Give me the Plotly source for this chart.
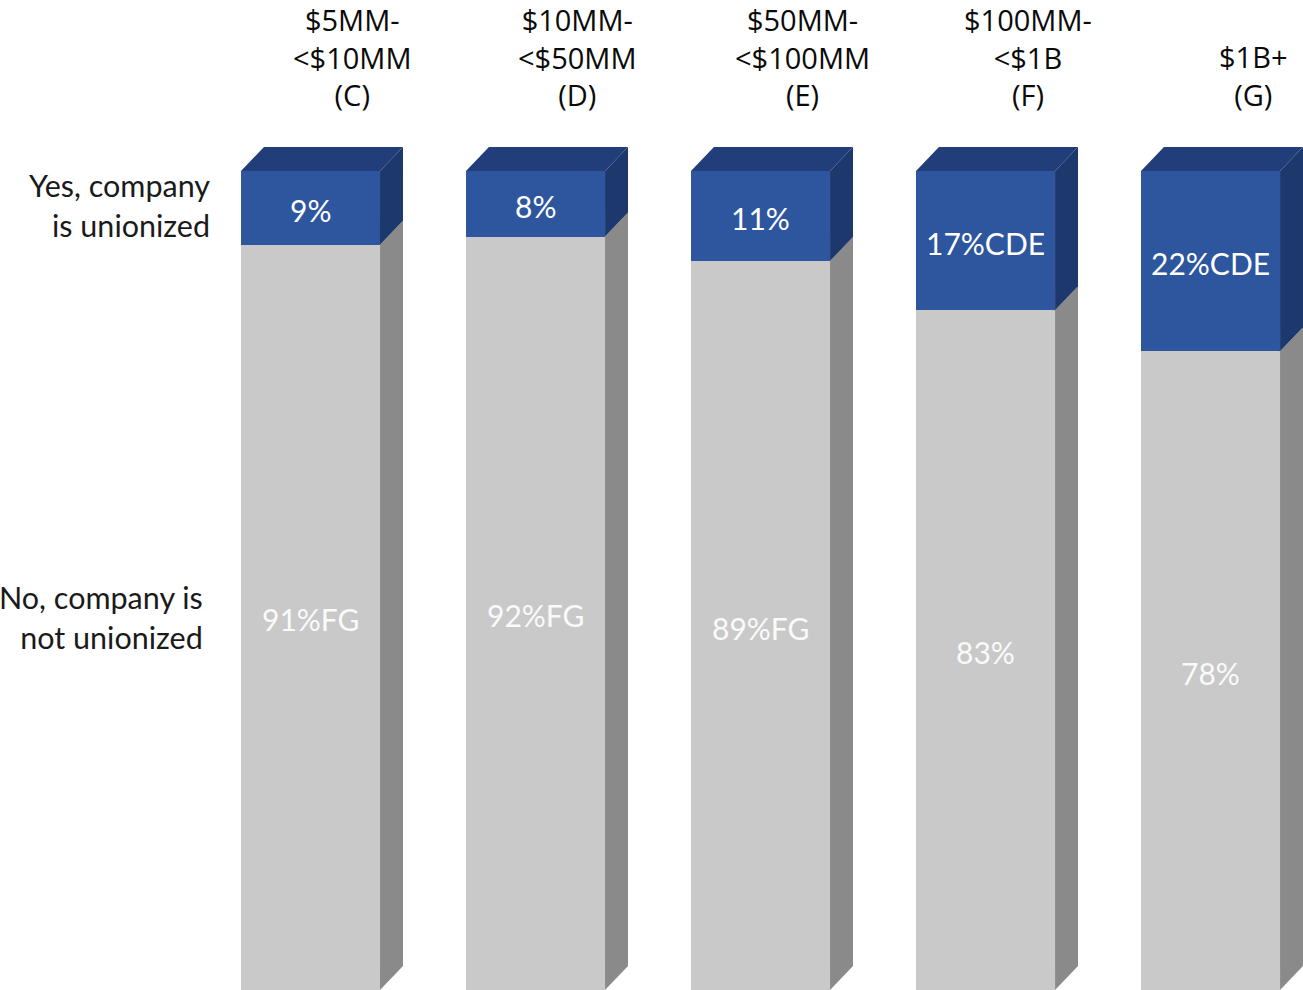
import plotly.graph_objects as go

# Company revenue segments (columns)
segments = ["$5MM-<br><$10MM<br>(C)", "$10MM-<br><$50MM<br>(D)", "$50MM-<br><$100MM<br>(E)",
            "$100MM-<br><$1B<br>(F)", "$1B+<br>(G)"]
# Share of companies that are unionized / not unionized (%)
yes_values = [9, 8, 11, 17, 22]
no_values = [91, 92, 89, 83, 78]
# Significance letters shown after each value
yes_sig = ["", "", "", "CDE", "CDE"]
no_sig = ["FG", "FG", "FG", "", ""]
series_names = ["Yes, company<br>is unionized", "No, company is<br>not unionized"]

BLUE_FRONT = "#2E569E"
BLUE_TOP = "#213D7A"
BLUE_SIDE = "#1C386C"
GRAY_FRONT = "#C9C9C9"
GRAY_SIDE = "#8A8A8A"

BAR_W = 0.618      # bar width in category units
DX = 0.102         # depth offset (x, category units)
DY = 2.93          # depth offset (y, percentage units)

x = list(range(len(segments)))

fig = go.Figure()
fig.add_trace(go.Bar(x=x, y=no_values, width=BAR_W, marker=dict(color=GRAY_FRONT, line=dict(width=0)),
                     name="No", showlegend=False, hoverinfo="skip"))
fig.add_trace(go.Bar(x=x, y=yes_values, width=BAR_W, marker=dict(color=BLUE_FRONT, line=dict(width=0)),
                     name="Yes", showlegend=False, hoverinfo="skip"))


def face(xs, ys, color):
    fig.add_trace(go.Scatter(x=xs + [xs[0]], y=ys + [ys[0]], mode="lines", fill="toself",
                             fillcolor=color, line=dict(width=0, color=color),
                             showlegend=False, hoverinfo="skip"))


# 3D side and top faces
for i in x:
    xl = i - BAR_W / 2
    xr = i + BAR_W / 2
    n = no_values[i]
    tot = no_values[i] + yes_values[i]
    face([xr, xr, xr + DX, xr + DX], [0, n, n + DY, DY], GRAY_SIDE)
    face([xr, xr, xr + DX, xr + DX], [n, tot, tot + DY, n + DY], BLUE_SIDE)
    face([xl, xr, xr + DX, xl + DX], [tot, tot, tot + DY, tot + DY], BLUE_TOP)

annotations = []
LABEL_FONT = "Lato, 'Noto Sans', sans-serif"
for i in x:
    n = no_values[i]
    yv = yes_values[i]
    annotations.append(dict(x=i, y=n + yv / 2, text=f"{yv}%{yes_sig[i]}", showarrow=False,
                            font=dict(family=LABEL_FONT, size=30, color="#FFFFFF"), yshift=-2))
    annotations.append(dict(x=i, y=n / 2, text=f"{n}%{no_sig[i]}", showarrow=False,
                            font=dict(family=LABEL_FONT, size=30, color="#FAFAFA"), yshift=-2))
    annotations.append(dict(x=i, y=0.8838, yref="paper", yanchor="bottom", xshift=42,
                            text=segments[i], showarrow=False, align="center", borderpad=0,
                            font=dict(family="'Open Sans', sans-serif", size=29, color="#0A0A0A")))

# Series labels beside the first column
annotations.append(dict(x=0, y=no_values[0] + yes_values[0] / 2, xanchor="right", xshift=-99, yshift=3,
                        text=series_names[0], showarrow=False, align="right",
                        font=dict(family=LABEL_FONT, size=30.5, color="#1A1A1A")))
annotations.append(dict(x=0, y=no_values[0] / 2, xanchor="right", xshift=-106,
                        text=series_names[1], showarrow=False, align="right",
                        font=dict(family=LABEL_FONT, size=30.5, color="#1A1A1A")))

fig.update_layout(
    barmode="stack",
    width=1303, height=990,
    margin=dict(l=0, r=0, t=0, b=0),
    plot_bgcolor="white", paper_bgcolor="white",
    xaxis=dict(range=[-1.38, 4.411], visible=False, fixedrange=True),
    yaxis=dict(range=[0, 120.88], visible=False, fixedrange=True),
    annotations=annotations,
)

fig.write_html("out.html")
